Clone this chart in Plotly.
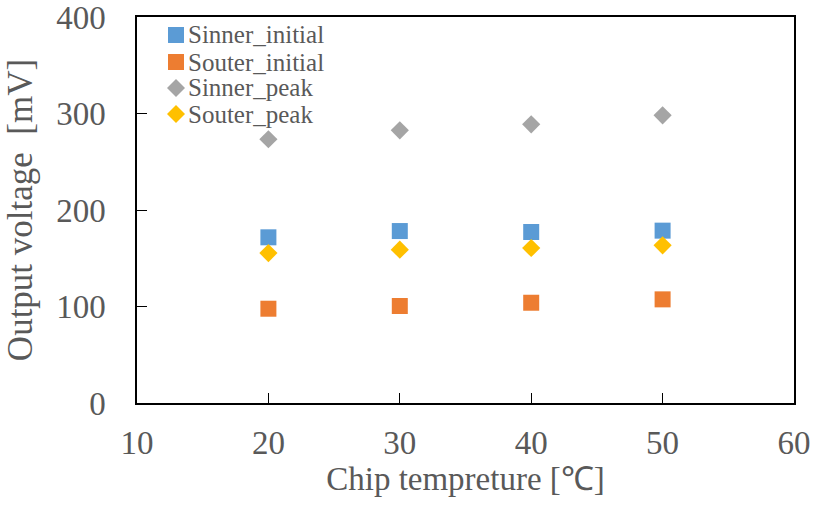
import plotly.graph_objects as go

temps = [20, 30, 40, 50]
sinner_initial = [171.7, 178.2, 177.2, 178.6]
souter_initial = [97.7, 100.5, 103.9, 107.4]
sinner_peak = [273.3, 282.6, 288.8, 298.1]
souter_peak = [155.4, 158.9, 160.6, 163.4]

series = [
    ("Sinner_initial", sinner_initial, "square", "#5B9BD5", 16),
    ("Souter_initial", souter_initial, "square", "#ED7D31", 16),
    ("Sinner_peak", sinner_peak, "diamond", "#A5A5A5", 14),
    ("Souter_peak", souter_peak, "diamond", "#FFC000", 14),
]

FONT = "Times New Roman, Liberation Serif, serif"
GRAY = "#595959"

fig = go.Figure()
for name, vals, sym, col, sz in series:
    fig.add_trace(go.Scatter(
        x=temps, y=vals, mode="markers", name=name, showlegend=False,
        marker=dict(symbol=sym, color=col, size=sz, line=dict(width=0)),
    ))

# compact legend block in the upper-left corner of the plot
key_x = 0.0594      # marker centre (paper)
text_x = 0.0745     # label left edge (paper)
row_y = [0.9534, 0.8834, 0.8161, 0.7487]
shapes = []
annotations = []
for (name, _, sym, col, _), yy in zip(series, row_y):
    if sym == "square":
        shapes.append(dict(
            type="rect", xref="paper", yref="paper",
            xsizemode="pixel", ysizemode="pixel",
            xanchor=key_x, yanchor=yy,
            x0=-8, x1=8, y0=-8, y1=8,
            fillcolor=col, line=dict(width=0),
        ))
    else:
        shapes.append(dict(
            type="path", xref="paper", yref="paper",
            xsizemode="pixel", ysizemode="pixel",
            xanchor=key_x, yanchor=yy,
            path="M -9 0 L 0 9 L 9 0 L 0 -9 Z",
            fillcolor=col, line=dict(width=0),
        ))
    annotations.append(dict(
        text=name, xref="paper", yref="paper", x=text_x, y=yy,
        xanchor="left", yanchor="middle", showarrow=False,
        font=dict(family=FONT, size=25, color=GRAY),
    ))

fig.update_layout(
    width=814, height=509,
    margin=dict(l=137, r=20, t=17, b=106),
    plot_bgcolor="white", paper_bgcolor="white",
    font=dict(family=FONT, color=GRAY),
    showlegend=False,
    shapes=shapes,
    annotations=annotations,
)
fig.update_xaxes(
    range=[10, 60], tickvals=[10, 20, 30, 40, 50, 60],
    showgrid=False, zeroline=False, automargin=False,
    showline=True, linecolor="black", linewidth=1.5, mirror=True,
    ticks="inside", ticklen=10, tickcolor="black",
    tickfont=dict(family=FONT, size=33, color=GRAY),
    ticklabelstandoff=10, ticklabeloverflow="allow",
    title=dict(text="Chip tempreture [℃]", font=dict(family=FONT, size=33, color=GRAY), standoff=6),
)
fig.update_yaxes(
    range=[0, 400], tickvals=[0, 100, 200, 300, 400],
    showgrid=False, zeroline=False, automargin=False,
    showline=True, linecolor="black", linewidth=1.5, mirror=True,
    ticks="inside", ticklen=10, tickcolor="black",
    tickfont=dict(family=FONT, size=33, color=GRAY),
    ticklabelstandoff=23, ticklabeloverflow="allow",
    title=dict(text="Output voltage\u00a0\u00a0[mV]", font=dict(family=FONT, size=35, color=GRAY), standoff=13),
)

fig.write_html("out.html")
